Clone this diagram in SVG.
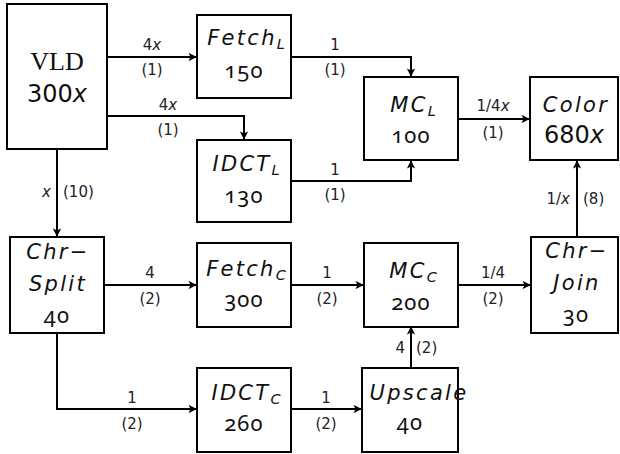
<svg xmlns="http://www.w3.org/2000/svg" width="620" height="454" viewBox="0 0 620 454">
<defs>
<marker id="ah" viewBox="0 0 10 10" refX="9" refY="5" markerWidth="4.2" markerHeight="4.2" orient="auto" markerUnits="strokeWidth">
<path d="M0,0 L10,5 L0,10 L2.5,5 Z" fill="#000"/>
</marker>
<style>
.box{fill:#fff;stroke:#000;stroke-width:2}
.c{fill:none;stroke:#000;stroke-width:2;marker-end:url(#ah)}
.lb{font-family:"DejaVu Sans",sans-serif;font-size:15px;fill:#222;text-anchor:middle}
.nm{font-family:"DejaVu Sans",sans-serif;font-style:italic;font-size:21px;letter-spacing:2.3px;fill:#111;text-anchor:middle}
.sb{font-size:14.5px;letter-spacing:0}
.num{font-family:"Noto Sans","DejaVu Sans",sans-serif;font-variant-numeric:oldstyle-nums;font-feature-settings:"onum" 1;font-size:22px;letter-spacing:1.2px;fill:#111;text-anchor:middle}
.big{font-family:"DejaVu Sans",sans-serif;font-size:24px;fill:#111;text-anchor:middle}
.it{font-style:italic}
</style>
</defs>
<g id="connectors">
<path class="c" d="M107,57 H196"/>
<path class="c" d="M107,116 H244 V139"/>
<path class="c" d="M291,57 H411 V76"/>
<path class="c" d="M291,181 H411 V161"/>
<path class="c" d="M458,119 H529"/>
<path class="c" d="M577,237 V161"/>
<path class="c" d="M57,149 V236"/>
<path class="c" d="M104,285 H196"/>
<path class="c" d="M291,285 H363"/>
<path class="c" d="M458,285 H530"/>
<path class="c" d="M411,368 V327"/>
<path class="c" d="M57,333 V409 H196"/>
<path class="c" d="M291,409 H361"/>
<text class="lb" x="152" y="50">4<tspan class="it">x</tspan></text>
<text class="lb" x="152" y="75">(1)</text>
<text class="lb" x="168" y="110">4<tspan class="it">x</tspan></text>
<text class="lb" x="168" y="135">(1)</text>
<text class="lb" x="335" y="50">1</text>
<text class="lb" x="335" y="75">(1)</text>
<text class="lb" x="335" y="175">1</text>
<text class="lb" x="335" y="200">(1)</text>
<text class="lb" x="493" y="111">1/4<tspan class="it">x</tspan></text>
<text class="lb" x="493" y="138">(1)</text>
<text class="lb" x="570" y="204" style="text-anchor:end">1/<tspan class="it">x</tspan></text>
<text class="lb" x="583" y="204" style="text-anchor:start">(8)</text>
<text class="lb" x="51" y="197" style="text-anchor:end;font-style:italic">x</text>
<text class="lb" x="63" y="197" style="text-anchor:start">(10)</text>
<text class="lb" x="150" y="278">4</text>
<text class="lb" x="150" y="304">(2)</text>
<text class="lb" x="327" y="278">1</text>
<text class="lb" x="327" y="304">(2)</text>
<text class="lb" x="493" y="278">1/4</text>
<text class="lb" x="493" y="304">(2)</text>
<text class="lb" x="405" y="353" style="text-anchor:end">4</text>
<text class="lb" x="416" y="353" style="text-anchor:start">(2)</text>
<text class="lb" x="132" y="403">1</text>
<text class="lb" x="132" y="429">(2)</text>
<text class="lb" x="326" y="403">1</text>
<text class="lb" x="326" y="429">(2)</text>
</g>
<g id="VLD">
<rect class="box" x="7" y="4" width="100" height="145"/>
<text x="57" y="70" style="font-family:'Liberation Serif',serif;font-size:26px;fill:#111;text-anchor:middle">VLD</text>
<text class="big" x="57" y="102">300<tspan class="it">x</tspan></text>
</g>
<g id="FetchL">
<rect class="box" x="197" y="15" width="94" height="83"/>
<text class="nm" x="246" y="45">Fetch<tspan class="sb" dy="4">L</tspan></text>
<text class="num" x="244" y="78">150</text>
</g>
<g id="IDCTL">
<rect class="box" x="197" y="140" width="94" height="82"/>
<text class="nm" x="246" y="171">IDCT<tspan class="sb" dy="4">L</tspan></text>
<text class="num" x="244" y="203">130</text>
</g>
<g id="MCL">
<rect class="box" x="364" y="77" width="94" height="83"/>
<text class="nm" x="413" y="112">MC<tspan class="sb" dy="4">L</tspan></text>
<text class="num" x="411" y="143">100</text>
</g>
<g id="Color">
<rect class="box" x="530" y="77" width="88" height="83"/>
<text class="nm" x="576" y="112">Color</text>
<text class="big" x="574" y="143">680<tspan class="it">x</tspan></text>
</g>
<g id="ChrSplit">
<rect class="box" x="10" y="237" width="94" height="96"/>
<text class="nm" x="58" y="259">Chr−</text>
<text class="nm" x="58" y="291">Split</text>
<text class="num" x="57" y="323">40</text>
</g>
<g id="FetchC">
<rect class="box" x="197" y="243" width="94" height="84"/>
<text class="nm" x="246" y="276">Fetch<tspan class="sb" dy="4">C</tspan></text>
<text class="num" x="244" y="307">300</text>
</g>
<g id="MCC">
<rect class="box" x="364" y="243" width="94" height="84"/>
<text class="nm" x="413" y="278">MC<tspan class="sb" dy="4">C</tspan></text>
<text class="num" x="411" y="310">200</text>
</g>
<g id="ChrJoin">
<rect class="box" x="531" y="237" width="87" height="96"/>
<text class="nm" x="577" y="258">Chr−</text>
<text class="nm" x="577" y="290">Join</text>
<text class="num" x="576" y="322">30</text>
</g>
<g id="IDCTC">
<rect class="box" x="197" y="368" width="94" height="84"/>
<text class="nm" x="246" y="400">IDCT<tspan class="sb" dy="4">C</tspan></text>
<text class="num" x="244" y="431">260</text>
</g>
<g id="Upscale">
<rect class="box" x="362" y="368" width="96" height="84"/>
<text class="nm" x="419" y="400">Upscale</text>
<text class="num" x="410" y="430">40</text>
</g>
</svg>
